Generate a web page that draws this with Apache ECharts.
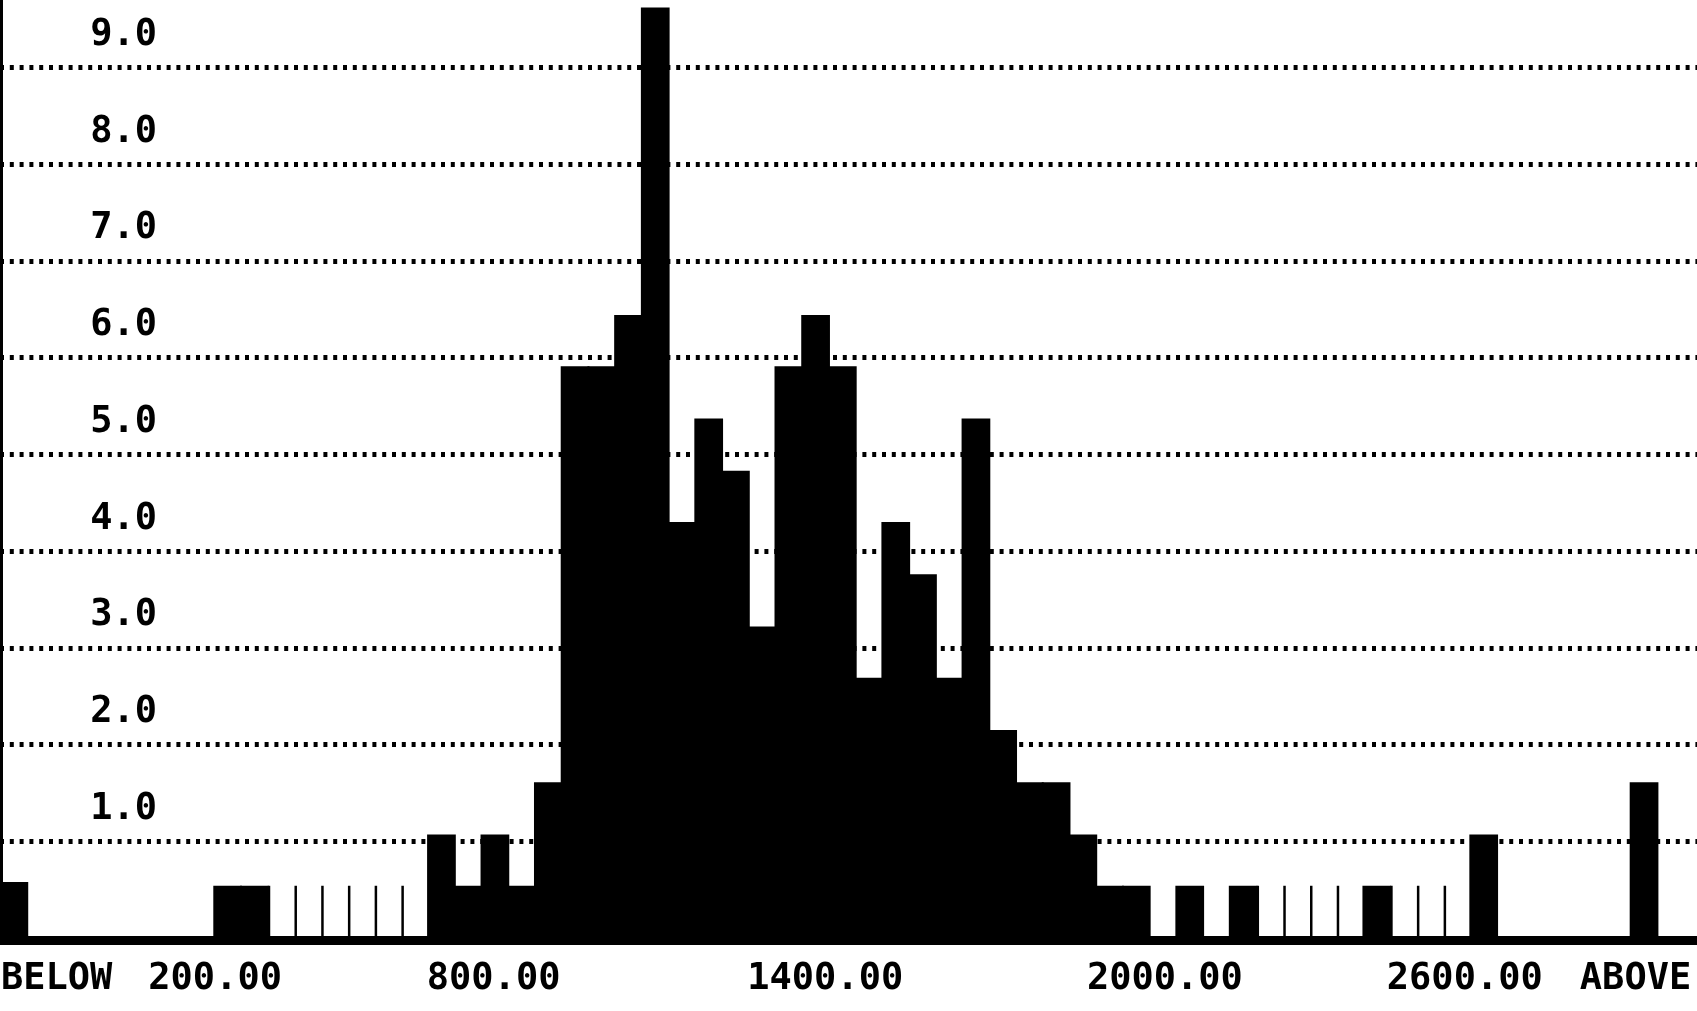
<!DOCTYPE html>
<html>
<head>
<meta charset="utf-8">
<script src="https://cdn.jsdelivr.net/npm/echarts@6/dist/echarts.min.js"></script>
<style>
html, body { margin: 0; padding: 0; background: #ffffff; }
#chart { width: 1697px; height: 1011px; }
</style>
</head>
<body>
<div id="chart"></div>
<script>
// Histogram bins: index 0 = "BELOW", following bins are equal-width classes
const binIndex = [0, 8, 9, 16, 17, 18, 19, 20, 21, 22, 23, 24, 25, 26, 27, 28, 29, 30, 31, 32, 33, 34, 35, 36, 37, 38, 39, 40, 41, 42, 44, 46, 51, 55, 61];
const percent = [0.58, 0.54, 0.54, 1.07, 0.54, 1.07, 0.54, 1.61, 5.91, 5.91, 6.44, 9.62, 4.30, 5.37, 4.83, 3.22, 5.91, 6.44, 5.91, 2.69, 4.30, 3.76, 2.69, 5.37, 2.15, 1.61, 1.61, 1.07, 0.54, 0.54, 0.54, 0.54, 0.54, 1.07, 1.61];
// Bins drawn only as thin outline separators
const hollowBins = [10, 11, 12, 13, 14, 15, 47, 48, 49, 50, 52, 53, 54];
const hollowHeight = [0.54, 0.54, 0.54, 0.54, 0.54, 0.54, 0.54, 0.54, 0.54, 0.54, 0.54, 0.54, 0.54];
// X axis tick labels and their positions (in bin units)
const xLabelPos = [2.12, 8.05, 18.47, 30.88, 43.59, 54.81, 61.2];
const xLabelText = ['BELOW', '200.00', '800.00', '1400.00', '2000.00', '2600.00', 'ABOVE'];
// Y axis tick values
const yTickMax = 9;

const FONT = '"DejaVu Sans Mono", "Liberation Mono", monospace';

const barData = binIndex.map((k, i) => [k, percent[i]]);
const hollowData = hollowBins.map((k, i) => [k, hollowHeight[i]]);

const chart = echarts.init(document.getElementById('chart'), null, { renderer: 'canvas' });

chart.setOption({
  backgroundColor: '#ffffff',
  animation: false,
  grid: { left: 0, right: 0, top: -10, bottom: 73, containLabel: false, outerBoundsMode: 'none' },
  xAxis: {
    type: 'value',
    min: 0,
    max: 63.5,
    offset: 2,
    axisLine: { show: true, onZero: false, lineStyle: { color: '#000', width: 9 } },
    axisTick: { show: false },
    splitLine: { show: false },
    axisLabel: {
      customValues: xLabelPos,
      margin: 39,
      verticalAlign: 'middle',
      color: '#000',
      fontFamily: FONT,
      fontSize: 37,
      fontWeight: 'bold',
      formatter: function (v) {
        let best = 0;
        for (let i = 1; i < xLabelPos.length; i++) {
          if (Math.abs(xLabelPos[i] - v) < Math.abs(xLabelPos[best] - v)) best = i;
        }
        return xLabelText[best];
      }
    }
  },
  yAxis: {
    type: 'value',
    min: 0,
    max: 9.8,
    interval: 1,
    axisLine: { show: true, lineStyle: { color: '#000', width: 6 } },
    axisTick: { show: false },
    splitLine: { show: true, lineStyle: { color: '#000', width: 5, type: [4, 5.8] } },
    axisLabel: {
      inside: true,
      align: 'right',
      margin: 157,
      verticalAlign: 'bottom',
      lineHeight: 64,
      showMinLabel: false,
      showMaxLabel: false,
      color: '#000',
      fontFamily: FONT,
      fontSize: 37,
      fontWeight: 'bold',
      formatter: function (v) {
        return (v >= 1 && v <= yTickMax && Math.abs(v - Math.round(v)) < 1e-6) ? v.toFixed(1) : '';
      }
    }
  },
  series: [
    {
      type: 'custom',
      name: 'bars',
      data: barData,
      encode: { x: 0, y: 1 },
      renderItem: function (params, api) {
        const k = api.value(0), v = api.value(1);
        const p0 = api.coord([k, v]);
        const p1 = api.coord([k + 1, 0]);
        return {
          type: 'rect',
          shape: { x: p0[0] - 0.5, y: p0[1], width: p1[0] - p0[0] + 2, height: p1[1] - p0[1] + 2 },
          style: { fill: '#000' }
        };
      }
    },
    {
      type: 'custom',
      name: 'hollow',
      data: hollowData,
      encode: { x: 0, y: 1 },
      renderItem: function (params, api) {
        const k = api.value(0), v = api.value(1);
        const p0 = api.coord([k, v]);
        const p1 = api.coord([k, 0]);
        return {
          type: 'rect',
          shape: { x: p0[0] + 0.5, y: p0[1], width: 2.5, height: p1[1] - p0[1] + 2 },
          style: { fill: '#000' }
        };
      }
    }
  ]
});
</script>
</body>
</html>
